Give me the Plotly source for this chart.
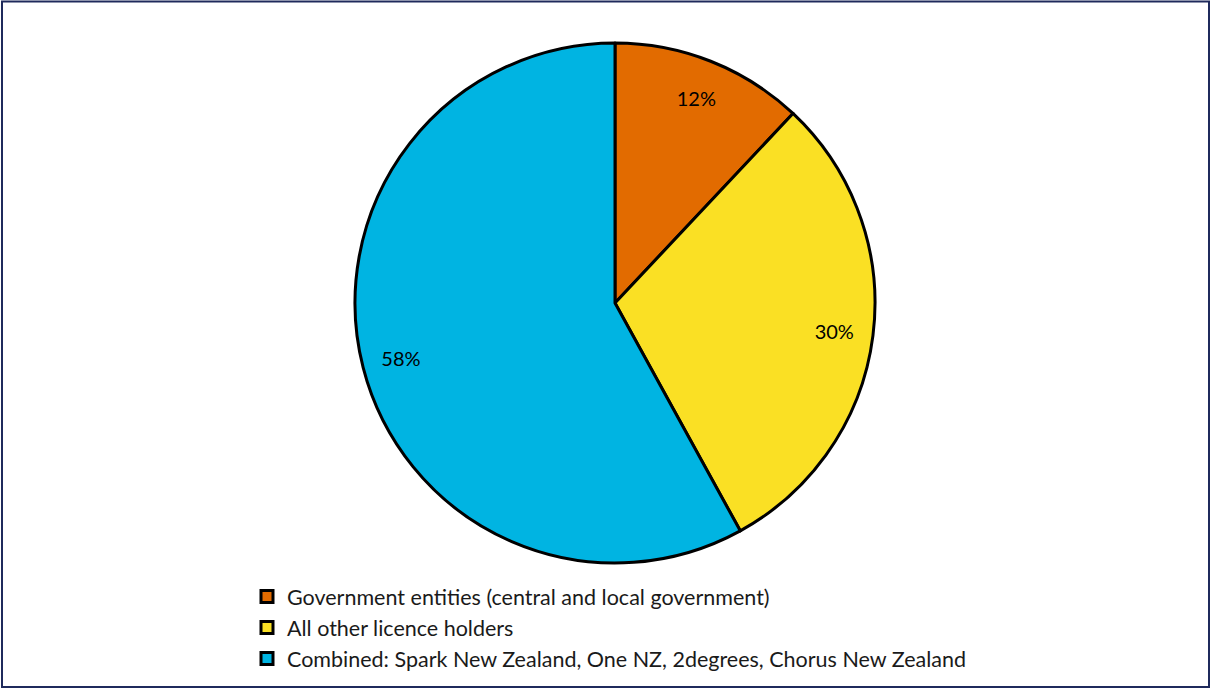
import plotly.graph_objects as go

labels = ["Government entities (central and local government)",
          "All other licence holders",
          "Combined: Spark New Zealand, One NZ, 2degrees, Chorus New Zealand"]
values = [12, 30, 58]
colors = ["#E26B00", "#FAE024", "#00B4E2"]

W, H = 1211, 689
dom_x = [355 / W, 875 / W]
dom_y = [1 - 563 / H, 1 - 43 / H]
FONT = "Lato"

fig = go.Figure()
fig.add_trace(go.Pie(
    labels=labels, values=values, sort=False, direction="clockwise", rotation=0,
    marker=dict(colors=colors, line=dict(color="black", width=3)),
    textinfo="none", hoverinfo="label+percent",
    domain=dict(x=dom_x, y=dom_y), showlegend=True,
))
fig.add_trace(go.Pie(
    labels=labels, values=values, sort=False, direction="clockwise", rotation=0,
    hole=0.70,
    marker=dict(colors=["rgba(0,0,0,0)"] * 3, line=dict(width=0)),
    textinfo="percent", texttemplate="%{percent:.0%}", textposition="inside",
    insidetextorientation="horizontal",
    textfont=dict(family=FONT, size=20, color="black"),
    hoverinfo="skip", domain=dict(x=dom_x, y=dom_y), showlegend=False,
))

fig.update_layout(
    width=W, height=H,
    margin=dict(l=0, r=0, t=0, b=0),
    paper_bgcolor="white", plot_bgcolor="white",
    font=dict(family=FONT, color="black"),
    uniformtext=dict(minsize=20, mode="show"),
    legend=dict(x=247 / W, y=1 - 576 / H, xanchor="left", yanchor="top",
                font=dict(family=FONT, size=21.5, color="#1a1a1a"),
                traceorder="normal", itemwidth=30, tracegroupgap=0,
                bgcolor="rgba(0,0,0,0)"),
    shapes=[dict(type="rect", xref="paper", yref="paper",
                 x0=2 / W, x1=1209 / W, y0=1 - 687 / H, y1=1 - 1.5 / H,
                 line=dict(color="#1F2A5C", width=2))],
)

fig.write_html("out.html")
